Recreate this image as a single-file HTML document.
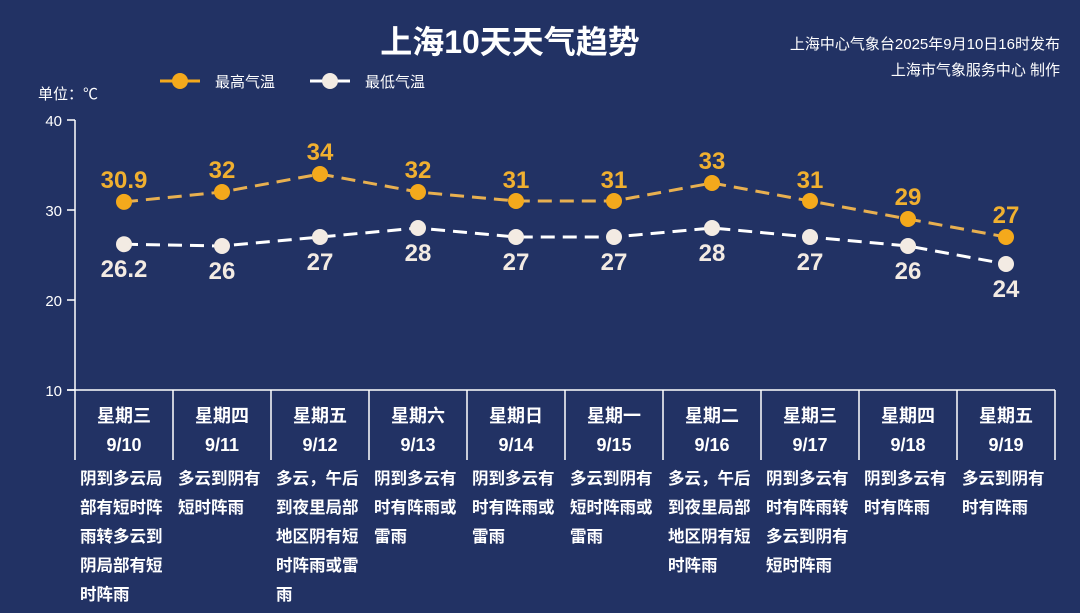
<!DOCTYPE html>
<html><head><meta charset="utf-8"><style>
body{margin:0;background:#223264;}
svg{display:block}
text{font-family:"Liberation Sans","Noto Sans CJK SC",sans-serif;}
</style></head><body>
<svg width="1080" height="613" viewBox="0 0 1080 613">
<rect width="1080" height="613" fill="#223264"/>
<text x="510" y="53" text-anchor="middle" fill="#fff" font-size="32" font-weight="bold">上海10天天气趋势</text>
<text x="1060" y="49" text-anchor="end" fill="#fff" font-size="15">上海中心气象台2025年9月10日16时发布</text>
<text x="1060" y="75" text-anchor="end" fill="#fff" font-size="15">上海市气象服务中心 制作</text>
<line x1="160" y1="81" x2="200" y2="81" stroke="#f4a91c" stroke-width="3"/><circle cx="180" cy="81" r="8" fill="#f4a91c"/>
<text x="215" y="87" fill="#fff" font-size="15">最高气温</text>
<line x1="310" y1="81" x2="350" y2="81" stroke="#fff" stroke-width="3"/><circle cx="330" cy="81" r="8" fill="#f3ebe3"/>
<text x="365" y="87" fill="#fff" font-size="15">最低气温</text>
<text x="38" y="99" fill="#fff" font-size="15">单位：℃</text>
<g stroke="#fff" stroke-width="1.5">
<line x1="75" y1="120" x2="75" y2="460"/>
<line x1="67" y1="120" x2="75" y2="120"/><line x1="67" y1="210" x2="75" y2="210"/><line x1="67" y1="300" x2="75" y2="300"/><line x1="67" y1="390" x2="75" y2="390"/>
<line x1="67" y1="390" x2="1055" y2="390"/>
<line x1="173" y1="390" x2="173" y2="460"/><line x1="271" y1="390" x2="271" y2="460"/><line x1="369" y1="390" x2="369" y2="460"/><line x1="467" y1="390" x2="467" y2="460"/><line x1="565" y1="390" x2="565" y2="460"/><line x1="663" y1="390" x2="663" y2="460"/><line x1="761" y1="390" x2="761" y2="460"/><line x1="859" y1="390" x2="859" y2="460"/><line x1="957" y1="390" x2="957" y2="460"/><line x1="1055" y1="390" x2="1055" y2="460"/>
</g>
<g fill="#fff" font-size="15" text-anchor="end">
<text x="62" y="126">40</text><text x="62" y="216">30</text><text x="62" y="306">20</text><text x="62" y="396">10</text>
</g>
<polyline fill="none" stroke="#e8b050" stroke-width="3" stroke-dasharray="14,8" points="124,201.9 222,192 320,174 418,192 516,201 614,201 712,183 810,201 908,219 1006,237"/>
<polyline fill="none" stroke="#fff" stroke-width="3" stroke-dasharray="14,8" points="124,244.2 222,246 320,237 418,228 516,237 614,237 712,228 810,237 908,246 1006,264"/>
<g fill="#f4a91c">
<circle cx="124" cy="201.9" r="8"/><circle cx="222" cy="192" r="8"/><circle cx="320" cy="174" r="8"/><circle cx="418" cy="192" r="8"/><circle cx="516" cy="201" r="8"/><circle cx="614" cy="201" r="8"/><circle cx="712" cy="183" r="8"/><circle cx="810" cy="201" r="8"/><circle cx="908" cy="219" r="8"/><circle cx="1006" cy="237" r="8"/>
</g>
<g fill="#f3ebe3">
<circle cx="124" cy="244.2" r="8"/><circle cx="222" cy="246" r="8"/><circle cx="320" cy="237" r="8"/><circle cx="418" cy="228" r="8"/><circle cx="516" cy="237" r="8"/><circle cx="614" cy="237" r="8"/><circle cx="712" cy="228" r="8"/><circle cx="810" cy="237" r="8"/><circle cx="908" cy="246" r="8"/><circle cx="1006" cy="264" r="8"/>
</g>
<g fill="#f0b030" font-size="24" font-weight="bold" text-anchor="middle">
<text x="124" y="188">30.9</text><text x="222" y="178">32</text><text x="320" y="160">34</text><text x="418" y="178">32</text><text x="516" y="188">31</text><text x="614" y="188">31</text><text x="712" y="169">33</text><text x="810" y="188">31</text><text x="908" y="205">29</text><text x="1006" y="223">27</text>
</g>
<g fill="#f3ebe3" font-size="24" font-weight="bold" text-anchor="middle">
<text x="124" y="277">26.2</text><text x="222" y="279">26</text><text x="320" y="270">27</text><text x="418" y="261">28</text><text x="516" y="270">27</text><text x="614" y="270">27</text><text x="712" y="261">28</text><text x="810" y="270">27</text><text x="908" y="279">26</text><text x="1006" y="297">24</text>
</g>
<g fill="#fff" font-size="18" font-weight="bold" text-anchor="middle">
<text x="124" y="422">星期三</text><text x="124" y="451">9/10</text>
<text x="222" y="422">星期四</text><text x="222" y="451">9/11</text>
<text x="320" y="422">星期五</text><text x="320" y="451">9/12</text>
<text x="418" y="422">星期六</text><text x="418" y="451">9/13</text>
<text x="516" y="422">星期日</text><text x="516" y="451">9/14</text>
<text x="614" y="422">星期一</text><text x="614" y="451">9/15</text>
<text x="712" y="422">星期二</text><text x="712" y="451">9/16</text>
<text x="810" y="422">星期三</text><text x="810" y="451">9/17</text>
<text x="908" y="422">星期四</text><text x="908" y="451">9/18</text>
<text x="1006" y="422">星期五</text><text x="1006" y="451">9/19</text>
</g>
<g fill="#fff" font-size="16.5" font-weight="bold">
<text x="80" y="484">阴到多云局</text><text x="80" y="513">部有短时阵</text><text x="80" y="542">雨转多云到</text><text x="80" y="571">阴局部有短</text><text x="80" y="600">时阵雨</text>
<text x="178" y="484">多云到阴有</text><text x="178" y="513">短时阵雨</text>
<text x="276" y="484">多云，午后</text><text x="276" y="513">到夜里局部</text><text x="276" y="542">地区阴有短</text><text x="276" y="571">时阵雨或雷</text><text x="276" y="600">雨</text>
<text x="374" y="484">阴到多云有</text><text x="374" y="513">时有阵雨或</text><text x="374" y="542">雷雨</text>
<text x="472" y="484">阴到多云有</text><text x="472" y="513">时有阵雨或</text><text x="472" y="542">雷雨</text>
<text x="570" y="484">多云到阴有</text><text x="570" y="513">短时阵雨或</text><text x="570" y="542">雷雨</text>
<text x="668" y="484">多云，午后</text><text x="668" y="513">到夜里局部</text><text x="668" y="542">地区阴有短</text><text x="668" y="571">时阵雨</text>
<text x="766" y="484">阴到多云有</text><text x="766" y="513">时有阵雨转</text><text x="766" y="542">多云到阴有</text><text x="766" y="571">短时阵雨</text>
<text x="864" y="484">阴到多云有</text><text x="864" y="513">时有阵雨</text>
<text x="962" y="484">多云到阴有</text><text x="962" y="513">时有阵雨</text>
</g>
</svg>
</body></html>
